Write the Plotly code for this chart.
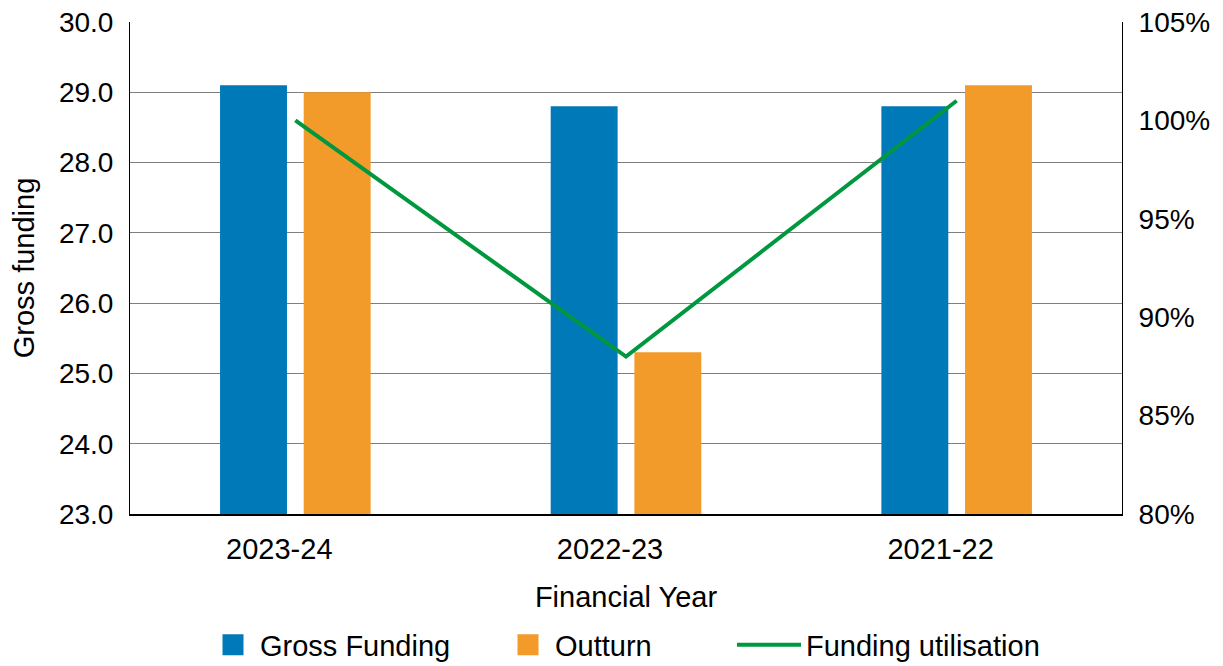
import plotly.graph_objects as go

years = ["2023-24", "2022-23", "2021-22"]
gross_funding = [29.1, 28.8, 28.8]
outturn = [29.0, 25.3, 29.1]
utilisation = [100, 88, 101]

series_names = ["Gross Funding", "Outturn", "Funding utilisation"]
BLUE, ORANGE, GREEN = "#0079B9", "#F39B2A", "#00983F"
FONT = "Liberation Sans, Arial, sans-serif"

# page body adds an 8px offset; size the figure so it fits the 1223x666 view
W, H = 1215, 658
L, R, T, B = 122, 101, 14, 152
PW = W - L - R
PH = H - T - B


def px_x(p):
    return (p - L) / PW


def px_y(p):
    return (H - B - p) / PH


fig = go.Figure()
fig.add_trace(go.Bar(x=years, y=gross_funding, name=series_names[0], showlegend=False,
                     marker=dict(color=BLUE, line=dict(width=0))))
fig.add_trace(go.Bar(x=years, y=outturn, name=series_names[1], showlegend=False,
                     marker=dict(color=ORANGE, line=dict(width=0))))
fig.add_trace(go.Scatter(x=years, y=utilisation, name=series_names[2], showlegend=False,
                         mode="lines", line=dict(color=GREEN, width=4), yaxis="y2"))

# legend-only entries (larger square swatches like the reference)
fig.add_trace(go.Scatter(x=[None], y=[None], mode="markers", name=series_names[0],
                         legend="legend",
                         marker=dict(symbol="square", size=16, color=BLUE,
                                     line=dict(color=BLUE, width=5))))
fig.add_trace(go.Scatter(x=[None], y=[None], mode="markers", name=series_names[1],
                         legend="legend2",
                         marker=dict(symbol="square", size=16, color=ORANGE,
                                     line=dict(color=ORANGE, width=5))))
fig.add_trace(go.Scatter(x=[None], y=[None], mode="lines", name=series_names[2],
                         legend="legend3",
                         line=dict(color=GREEN, width=4)))

leg_common = dict(orientation="h", yanchor="middle", y=px_y(637), xanchor="left",
                  font=dict(size=29), bgcolor="rgba(0,0,0,0)", borderwidth=0)

fig.update_layout(
    width=W, height=H,
    margin=dict(l=L, r=R, t=T, b=B, autoexpand=False),
    plot_bgcolor="white", paper_bgcolor="white",
    font=dict(family=FONT, size=28, color="#000000"),
    barmode="group", bargap=0.494, bargroupgap=0.2,
    showlegend=True,
    legend=dict(**leg_common, x=px_x(198), itemwidth=44),
    legend2=dict(**leg_common, x=px_x(493), itemwidth=44),
    legend3=dict(**leg_common, x=px_x(724), itemwidth=64),
    xaxis=dict(title=dict(text="Financial Year", font=dict(size=29), standoff=23),
               showline=True, linecolor="#000000", linewidth=1.5, automargin=False,
               ticks="", tickfont=dict(size=29), ticklabelstandoff=8,
               ticklabelshift=-16),
    yaxis=dict(title=dict(text="Gross funding", font=dict(size=29), standoff=21),
               range=[23, 30], tickmode="linear", tick0=23, dtick=1,
               tickformat=".1f", automargin=False, ticklabeloverflow="allow",
               showgrid=True, gridcolor="#7f7f7f", gridwidth=1,
               showline=True, linecolor="#000000", linewidth=1,
               ticks="", tickfont=dict(size=28), zeroline=False,
               ticklabelstandoff=10),
    yaxis2=dict(overlaying="y", side="right", range=[80, 105], tickmode="linear",
                tick0=80, dtick=5, ticklabeloverflow="allow",
                ticksuffix="%", showgrid=False, showline=True, automargin=False,
                linecolor="#000000", linewidth=1, ticks="",
                tickfont=dict(size=28), zeroline=False, ticklabelstandoff=10),
)

fig.write_html("out.html")
